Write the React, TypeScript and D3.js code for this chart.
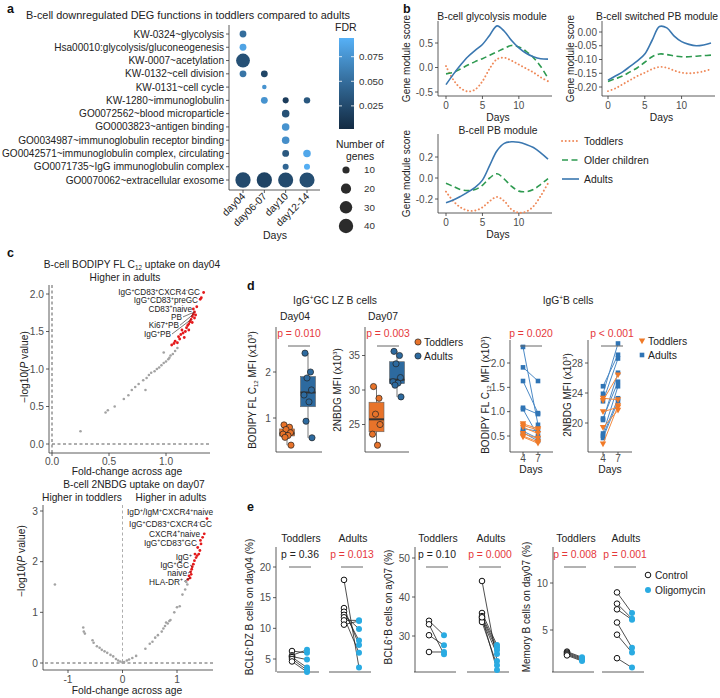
import React, { useEffect, useRef } from "react";
import * as d3 from "d3";

const W = 720;
const H = 698;
const FONT = "'Liberation Sans', Arial, Helvetica, sans-serif";

// ---------- panel a: DEG functions ----------
const termLabels = [
  "KW-0324~glycolysis",
  "Hsa00010:glycolysis/gluconeogenesis",
  "KW-0007~acetylation",
  "KW-0132~cell division",
  "KW-0131~cell cycle",
  "KW-1280~immunoglobulin",
  "GO0072562~blood microparticle",
  "GO0003823~antigen binding",
  "GO0034987~immunoglobulin receptor binding",
  "GO0042571~immunoglobulin complex, circulating",
  "GO0071735~IgG immunoglobulin complex",
  "GO0070062~extracellular exosome",
];
const dayGroups = ["day04", "day06-07", "day10", "day12-14"];
const enrichment = [
  { term: "KW-0324~glycolysis", day: "day04", genes: 9, fdr: 0.05 },
  { term: "Hsa00010:glycolysis/gluconeogenesis", day: "day04", genes: 9, fdr: 0.085 },
  { term: "KW-0007~acetylation", day: "day04", genes: 37, fdr: 0.03 },
  { term: "KW-0132~cell division", day: "day04", genes: 9, fdr: 0.055 },
  { term: "KW-0132~cell division", day: "day06-07", genes: 9, fdr: 0.022 },
  { term: "KW-0131~cell cycle", day: "day06-07", genes: 4, fdr: 0.075 },
  { term: "KW-1280~immunoglobulin", day: "day06-07", genes: 9, fdr: 0.075 },
  { term: "KW-1280~immunoglobulin", day: "day10", genes: 7, fdr: 0.015 },
  { term: "KW-1280~immunoglobulin", day: "day12-14", genes: 8, fdr: 0.035 },
  { term: "GO0072562~blood microparticle", day: "day10", genes: 11, fdr: 0.03 },
  { term: "GO0003823~antigen binding", day: "day10", genes: 11, fdr: 0.075 },
  { term: "GO0034987~immunoglobulin receptor binding", day: "day10", genes: 11, fdr: 0.072 },
  { term: "GO0042571~immunoglobulin complex, circulating", day: "day10", genes: 9, fdr: 0.035 },
  { term: "GO0042571~immunoglobulin complex, circulating", day: "day12-14", genes: 11, fdr: 0.088 },
  { term: "GO0071735~IgG immunoglobulin complex", day: "day10", genes: 7, fdr: 0.045 },
  { term: "GO0071735~IgG immunoglobulin complex", day: "day12-14", genes: 7, fdr: 0.092 },
  { term: "GO0070062~extracellular exosome", day: "day04", genes: 45, fdr: 0.025 },
  { term: "GO0070062~extracellular exosome", day: "day06-07", genes: 45, fdr: 0.02 },
  { term: "GO0070062~extracellular exosome", day: "day10", genes: 44, fdr: 0.025 },
  { term: "GO0070062~extracellular exosome", day: "day12-14", genes: 44, fdr: 0.028 },
];
const fdrTicks = [0.025, 0.05, 0.075];
const geneTicks = [10, 20, 30, 40];

// ---------- panel b: module scores ----------
const moduleDays = [0, 1, 2, 3, 4, 5, 6, 7, 8, 9, 10, 11, 12, 13, 14];
const glycToddlers = [0.03, -0.25, -0.42, -0.49, -0.45, -0.28, -0.02, 0.17, 0.2, 0.14, 0.06, -0.02, -0.1, -0.2, -0.28];
const glycOlder = [-0.13, -0.1, -0.03, 0.05, 0.12, 0.18, 0.25, 0.32, 0.39, 0.45, 0.42, 0.33, 0.2, 0.02, -0.22];
const glycAdults = [-0.35, -0.14, 0.05, 0.22, 0.35, 0.47, 0.66, 0.85, 0.74, 0.55, 0.4, 0.29, 0.22, 0.18, 0.17];
const swToddlers = [-0.215, -0.205, -0.19, -0.175, -0.16, -0.148, -0.135, -0.127, -0.13, -0.14, -0.148, -0.15, -0.148, -0.143, -0.135];
const swOlder = [-0.18, -0.17, -0.16, -0.145, -0.13, -0.11, -0.09, -0.08, -0.082, -0.087, -0.09, -0.09, -0.088, -0.086, -0.084];
const swAdults = [-0.175, -0.16, -0.145, -0.125, -0.105, -0.08, -0.03, 0.02, 0.015, -0.015, -0.035, -0.045, -0.05, -0.047, -0.04];
const pbToddlers = [-0.13, -0.22, -0.28, -0.31, -0.31, -0.28, -0.22, -0.18, -0.22, -0.3, -0.33, -0.32, -0.27, -0.17, -0.05];
const pbOlder = [-0.05, -0.08, -0.11, -0.12, -0.11, -0.07, 0.0, 0.04, -0.01, -0.08, -0.125, -0.13, -0.11, -0.06, -0.005];
const pbAdults = [-0.235, -0.21, -0.175, -0.135, -0.09, -0.02, 0.12, 0.26, 0.33, 0.345, 0.34, 0.32, 0.29, 0.24, 0.18];
const ageGroups = ["Toddlers", "Older children", "Adults"];

// ---------- panel c: volcano-like plots ([fold change, -log10 p]) ----------
const bodipyGray = [
  [0.25, 0.17], [0.47, 0.42], [0.49, 0.45], [0.55, 0.5], [0.63, 0.6], [0.67, 0.65], [0.7, 0.72],
  [0.73, 0.76], [0.82, 0.72], [0.76, 0.8], [0.8, 0.85], [0.83, 0.88], [0.85, 0.92], [0.87, 0.95],
  [0.9, 0.97], [0.92, 1.0], [0.94, 1.02], [0.96, 1.05], [0.98, 1.08], [1.0, 1.1], [1.02, 1.13],
  [1.03, 1.15], [1.04, 1.18], [0.98, 1.22], [1.06, 1.2], [1.08, 1.24], [1.1, 1.28],
];
const bodipyRed = [
  [1.05, 1.32], [1.07, 1.34], [1.08, 1.37], [1.1, 1.35], [1.12, 1.4], [1.11, 1.43], [1.13, 1.46],
  [1.15, 1.48], [1.14, 1.52], [1.17, 1.5], [1.18, 1.55], [1.19, 1.58], [1.2, 1.6], [1.21, 1.63],
  [1.22, 1.66], [1.23, 1.7], [1.24, 1.73], [1.25, 1.76], [1.26, 1.72], [1.24, 1.8], [1.27, 1.83],
  [1.3, 1.93], [1.31, 1.95], [1.33, 2.02], [1.25, 1.68], [1.16, 1.42], [1.2, 1.52], [1.23, 1.62],
];
const nbdgGray = [
  [-1.24, 1.55], [-0.72, 0.7], [-0.71, 0.62], [-0.69, 0.58], [-0.55, 0.45], [-0.53, 0.4], [-0.47, 0.33],
  [-0.42, 0.3], [-0.38, 0.26], [-0.33, 0.23], [-0.28, 0.2], [-0.22, 0.16], [-0.17, 0.13], [-0.12, 0.08],
  [-0.08, 0.05], [-0.04, 0.03], [0.0, 0.01], [0.03, 0.02], [0.08, 0.05], [0.12, 0.07], [0.18, 0.1],
  [0.25, 0.14], [0.42, 0.28], [0.5, 0.38], [0.55, 0.42], [0.6, 0.5], [0.65, 0.55], [0.72, 0.62],
  [0.75, 0.68], [0.78, 0.73], [0.8, 0.8], [0.83, 0.78], [0.86, 0.83], [0.88, 0.85], [0.95, 1.0],
  [1.0, 1.1], [1.05, 1.12], [1.1, 1.35], [1.15, 1.45], [1.19, 1.55], [1.17, 1.6],
];
const nbdgRed = [
  [1.2, 1.65], [1.24, 1.68], [1.22, 1.72], [1.26, 1.75], [1.25, 1.8], [1.27, 1.85], [1.28, 1.9],
  [1.3, 1.95], [1.32, 2.02], [1.35, 2.08], [1.37, 2.12], [1.33, 2.15], [1.4, 2.15], [1.42, 2.22],
  [1.38, 2.28], [1.44, 2.35], [1.43, 2.42], [1.47, 2.48], [1.5, 2.55], [1.55, 2.85],
];

// ---------- panel d ----------
const lzBodipyToddlers = [0.85, 0.8, 0.75, 0.68, 0.65, 0.62, 0.58, 0.41];
const lzBodipyAdults = [2.41, 2.0, 1.87, 1.61, 1.5, 1.35, 0.93, 0.57];
const lzNbdgToddlers = [30.5, 28.8, 26.5, 25.0, 23.6, 22.0];
const lzNbdgAdults = [35.6, 35.0, 33.8, 31.8, 31.2, 31.0, 30.7, 29.0];
const igBodipyAdultsD4 = [2.33, 1.91, 1.63, 1.08, 1.05, 0.65, 0.6, 0.57];
const igBodipyAdultsD7 = [0.73, 1.63, 0.97, 0.95, 0.5, 0.6, 0.45, 0.4];
const igBodipyToddlersD4 = [0.75, 0.72, 0.68, 0.55, 0.5, 0.48];
const igBodipyToddlersD7 = [0.65, 0.62, 0.55, 0.45, 0.38, 0.35];
const igNbdgAdultsD4 = [24.9, 23.9, 22.9, 20.6, 20.4, 18.6, 18.3, 18.0];
const igNbdgAdultsD7 = [29.1, 30.6, 28.6, 25.5, 26.7, 24.9, 23.3, 22.9];
const igNbdgToddlersD4 = [23.3, 23.0, 21.5, 19.4, 17.2];
const igNbdgToddlersD7 = [23.1, 26.4, 22.1, 21.7, 22.3];

// ---------- panel e ----------
const dzToddlersCtrl = [6.3, 5.6, 5.4, 5.3, 5.0, 4.6];
const dzToddlersOligo = [6.0, 6.5, 4.9, 3.6, 3.2, 2.9];
const dzAdultsCtrl = [17.9, 13.3, 12.7, 12.2, 11.8, 11.3, 10.6];
const dzAdultsOligo = [3.6, 7.3, 8.0, 9.9, 6.0, 11.3, 11.2];
const bcl6ToddlersCtrl = [33.9, 33.0, 30.2, 25.9];
const bcl6ToddlersOligo = [30.2, 25.3, 27.6, 25.9];
const bcl6AdultsCtrl = [44.1, 35.9, 35.1, 34.6, 34.1, 33.6, 34.8];
const bcl6AdultsOligo = [23.6, 27.7, 27.1, 26.4, 25.4, 22.5, 21.3];
const memToddlersCtrl = [2.7, 2.6, 2.5, 2.4, 2.3];
const memToddlersOligo = [2.1, 2.0, 1.9, 1.8, 1.7];
const memAdultsCtrl = [9.0, 7.8, 7.2, 5.8, 4.5, 2.0];
const memAdultsOligo = [6.8, 6.2, 6.1, 3.1, 2.6, 1.0];

const C = {
  tod: "#EF8A5A",
  old: "#2E9A50",
  adu: "#3A77B0",
  orange: "#E8732A",
  blue: "#2D6A9F",
  sqBlue: "#2F74B5",
  red: "#E5383B",
  pt: "#E41A1C",
  gray: "#A3A3A3",
  oligo: "#2AABE2",
  tick: "#4D4D4D",
};

type G = d3.Selection<SVGGElement, unknown, null, undefined>;

// text with ^x / ^{..} superscripts and _{..} subscripts
function rich(t: any, s: string, fs: number) {
  const re = /(\^|_)(\{[^}]*\}|.)/g;
  let last = 0;
  let shift = 0;
  let m: RegExpExecArray | null;
  while ((m = re.exec(s))) {
    if (m.index > last) {
      t.append("tspan").attr("dy", -shift).text(s.slice(last, m.index));
      shift = 0;
    }
    const part = m[2].startsWith("{") ? m[2].slice(1, -1) : m[2];
    const d = m[1] === "^" ? -0.38 * fs : 0.22 * fs;
    t.append("tspan").attr("dy", d - shift).attr("font-size", fs * 0.62).text(part);
    shift = d;
    last = re.lastIndex;
  }
  if (last < s.length) t.append("tspan").attr("dy", -shift).text(s.slice(last));
}

function label(g: G, x: number, y: number, s: string, o: any = {}) {
  const fs = o.fs ?? 10;
  const t = g
    .append("text")
    .attr("x", x)
    .attr("y", y)
    .attr("font-size", fs)
    .attr("fill", o.fill ?? "#222")
    .attr("text-anchor", o.anchor ?? "start");
  if (o.weight) t.attr("font-weight", o.weight);
  if (o.rotate) t.attr("transform", `rotate(${o.rotate},${x},${y})`);
  rich(t, s, fs);
  return t;
}

const hy = (f: string) => (v: number) => d3.format(f)(v).replace("\u2212", "-");

function line(g: G, x1: number, y1: number, x2: number, y2: number, stroke = "#333", w = 0.8) {
  return g.append("line").attr("x1", x1).attr("y1", y1).attr("x2", x2).attr("y2", y2).attr("stroke", stroke).attr("stroke-width", w);
}

function yAxis(g: G, y: any, ticks: number[], x: number, top: number, bottom: number, fmt: any, fs = 10) {
  line(g, x, top, x, bottom);
  ticks.forEach((t) => {
    line(g, x - 3, y(t), x, y(t));
    g.append("text").attr("x", x - 5).attr("y", y(t)).attr("dy", "0.35em").attr("text-anchor", "end")
      .attr("font-size", fs).attr("fill", C.tick).text(fmt(t));
  });
}

function xAxis(g: G, x: any, ticks: number[], y: number, left: number, right: number, fmt: any, ly: number, fs = 10) {
  line(g, left, y, right, y);
  ticks.forEach((t) => {
    line(g, x(t), y, x(t), y + 3);
    g.append("text").attr("x", x(t)).attr("y", ly).attr("text-anchor", "middle")
      .attr("font-size", fs).attr("fill", C.tick).text(fmt(t));
  });
}

function drawA(g: G) {
  label(g, 7, 13, "a", { fs: 12.5, weight: "bold", fill: "#111" });
  label(g, 26, 19, "B-cell downregulated DEG functions in toddlers compared to adults", { fs: 10.9 });
  const ay = d3.scalePoint<string>().domain(termLabels).range([34, 180]);
  const ax = d3.scalePoint<string>().domain(dayGroups).range([243, 307]);
  const lo = 0.0015, hi = 0.094;
  const col = d3.scaleLinear<string>().domain([lo, hi]).range(["#132B43", "#56B1F7"]).interpolate(d3.interpolateLab);
  const r = d3.scaleSqrt().domain([0, 40]).range([0, 7.2]);

  line(g, 229, 25, 229, 190);
  line(g, 229, 190, 320, 190);
  termLabels.forEach((t) => {
    line(g, 226, ay(t)!, 229, ay(t)!);
    g.append("text").attr("x", 224).attr("y", ay(t)!).attr("dy", "0.35em").attr("text-anchor", "end")
      .attr("font-size", 10.05).attr("fill", "#222").text(t);
  });
  dayGroups.forEach((d) => {
    line(g, ax(d)!, 190, ax(d)!, 193);
    g.append("text").attr("text-anchor", "end").attr("font-size", 10.2).attr("fill", "#222")
      .attr("transform", `translate(${ax(d)! + 3},${197}) rotate(-45)`).text(d);
  });
  label(g, 275, 239, "Days", { anchor: "middle", fs: 10.5 });

  g.selectAll("circle.en").data(enrichment).enter().append("circle")
    .attr("cx", (d) => ax(d.day)!).attr("cy", (d) => ay(d.term)!)
    .attr("r", (d) => r(d.genes)).attr("fill", (d) => col(d.fdr));

  // FDR colour bar
  label(g, 335, 31, "FDR", { fs: 10.5 });
  const defs = g.append("defs");
  const lg = defs.append("linearGradient").attr("id", "fdrg").attr("x1", 0).attr("y1", 1).attr("x2", 0).attr("y2", 0);
  d3.range(0, 1.01, 0.1).forEach((p) => lg.append("stop").attr("offset", p).attr("stop-color", col(lo + p * (hi - lo))));
  const cb = d3.scaleLinear().domain([lo, hi]).range([129, 38]);
  g.append("rect").attr("x", 339).attr("y", 38).attr("width", 15).attr("height", 91).attr("fill", "url(#fdrg)");
  fdrTicks.forEach((t) => {
    line(g, 339, cb(t), 342, cb(t), "#fff", 0.8);
    line(g, 351, cb(t), 354, cb(t), "#fff", 0.8);
    g.append("text").attr("x", 359).attr("y", cb(t)).attr("dy", "0.35em").attr("font-size", 9.8).attr("fill", "#333").text(d3.format(".3f")(t));
  });
  label(g, 360, 148, "Number of", { fs: 10.3, anchor: "middle" });
  label(g, 360, 160, "genes", { fs: 10.3, anchor: "middle" });
  const ly = d3.scalePoint<number>().domain(geneTicks).range([170, 226]);
  geneTicks.forEach((n) => {
    g.append("circle").attr("cx", 346).attr("cy", ly(n)!).attr("r", r(n)).attr("fill", "#2b2b2b");
    g.append("text").attr("x", 364).attr("y", ly(n)!).attr("dy", "0.35em").attr("font-size", 9.8).attr("fill", "#333").text(n);
  });
}

function drawModule(g: G, o: any) {
  const x = d3.scaleLinear().domain([0, 14]).range([o.x0, o.x1]);
  const y = d3.scaleLinear().domain(o.yd).range(o.yr);
  label(g, o.tx, o.ty, o.title, { anchor: "middle", fs: 10.3 });
  yAxis(g, y, o.ticks, o.ax, o.top, o.bottom, hy(o.fmt));
  xAxis(g, x, [0, 5, 10], o.bottom, o.ax, o.x1 + 4, (v: number) => v, o.bottom + 13);
  label(g, (o.ax + o.x1 + 4) / 2 + 3, o.bottom + 25, "Days", { anchor: "middle", fs: 10.3 });
  label(g, o.ax - 28, (o.top + o.bottom) / 2, "Gene module score", { anchor: "middle", fs: 10, rotate: -90 });
  const gen = d3.line<number>().x((_, i) => x(moduleDays[i])).y((v) => y(v)).curve(d3.curveCatmullRom.alpha(0.5));
  const styles = [
    { c: C.tod, dash: "0.1 3.6", w: 1.9, cap: "round" },
    { c: C.old, dash: "6 3.5", w: 1.6, cap: "butt" },
    { c: C.adu, dash: null, w: 1.6, cap: "butt" },
  ];
  o.series.forEach((s: number[], i: number) => {
    g.append("path").attr("d", gen(s)).attr("fill", "none").attr("stroke", styles[i].c)
      .attr("stroke-width", styles[i].w).attr("stroke-dasharray", styles[i].dash).attr("stroke-linecap", styles[i].cap);
  });
  return styles;
}

function drawB(g: G) {
  label(g, 403, 13, "b", { fs: 12.5, weight: "bold", fill: "#111" });
  drawModule(g, { x0: 446, x1: 548, yd: [-0.5, 0.5], yr: [92, 43], ticks: [-0.5, 0, 0.5], fmt: ".1f", ax: 438, top: 21, bottom: 96,
    title: "B-cell glycolysis module", tx: 492, ty: 20, series: [glycToddlers, glycOlder, glycAdults] });
  drawModule(g, { x0: 608, x1: 711, yd: [-0.2, 0], yr: [87, 32], ticks: [-0.2, -0.15, -0.1, -0.05, 0], fmt: ".2f", ax: 602, top: 21, bottom: 96,
    title: "B-cell switched PB module", tx: 657, ty: 20, series: [swToddlers, swOlder, swAdults] });
  const styles = drawModule(g, { x0: 446, x1: 548, yd: [-0.2, 0.2], yr: [199, 157], ticks: [-0.2, 0, 0.2], fmt: ".1f", ax: 438, top: 134, bottom: 213,
    title: "B-cell PB module", tx: 498, ty: 134, series: [pbToddlers, pbOlder, pbAdults] });
  ageGroups.forEach((a, i) => {
    const yy = 141 + i * 19;
    line(g, 562, yy, 579, yy, styles[i].c, styles[i].w).attr("stroke-dasharray", styles[i].dash).attr("stroke-linecap", styles[i].cap);
    label(g, 584, yy + 3.7, a, { fs: 10.4 });
  });
}

function volcanoPoints(g: G, x: any, y: any, gray: number[][], red: number[][]) {
  gray.forEach((p) => g.append("circle").attr("cx", x(p[0])).attr("cy", y(p[1])).attr("r", 1.3).attr("fill", C.gray));
  red.forEach((p) => g.append("circle").attr("cx", x(p[0])).attr("cy", y(p[1])).attr("r", 1.4).attr("fill", C.pt));
}

function pLabel(g: G, cx: number, cy: number) {
  const t = g.append("text").attr("x", cx).attr("y", cy).attr("text-anchor", "middle").attr("font-size", 10.2).attr("fill", "#222")
    .attr("transform", `rotate(-90,${cx},${cy})`);
  t.append("tspan").text("\u2212log10(");
  t.append("tspan").attr("font-style", "italic").text("P");
  t.append("tspan").text(" value)");
}

function drawC(g: G) {
  label(g, 7, 257, "c", { fs: 12.5, weight: "bold", fill: "#111" });
  // top: BODIPY
  label(g, 132, 268, "B-cell BODIPY FL C_{12} uptake on day04", { anchor: "middle", fs: 10.2 });
  label(g, 125, 281, "Higher in adults", { anchor: "middle", fs: 10.2 });
  const x1 = d3.scaleLinear().domain([0, 1]).range([52, 166]);
  const y1 = d3.scaleLinear().domain([0, 2]).range([444, 294]);
  yAxis(g, y1, [0, 0.5, 1, 1.5, 2], 49, 285, 453, hy(".1f"), 10.2);
  xAxis(g, x1, [0, 0.5, 1], 453, 49, 210, hy(".1f"), 465, 10.2);
  line(g, 52, y1(0), 210, y1(0), "#333", 0.8).attr("stroke-dasharray", "3 2.5");
  line(g, x1(0), 285, x1(0), 453, "#333", 0.8).attr("stroke-dasharray", "3 2.5");
  volcanoPoints(g, x1, y1, bodipyGray, bodipyRed);
  label(g, 127, 475, "Fold-change across age", { anchor: "middle", fs: 10.3 });
  pLabel(g, 28, 367);
  const lab1 = [
    { s: "IgG^+CD83^+CXCR4^-GC", x: 200, y: 295 },
    { s: "IgG^+CD83^+preGC", x: 198, y: 303.3 },
    { s: "CD83^+naive", x: 192, y: 311.6 },
    { s: "PB", x: 182, y: 319.9, p: bodipyRed[17] },
    { s: "Ki67^+PB", x: 179, y: 328.2, p: bodipyRed[16] },
    { s: "IgG^+PB", x: 171, y: 337, p: bodipyRed[14] },
  ];
  lab1.forEach((l) => {
    label(g, l.x, l.y, l.s, { anchor: "end", fs: 8.2 });
    if (l.p) line(g, l.x + 1, l.y - 3, x1(l.p[0]), y1(l.p[1]), "#222", 0.6);
  });

  // bottom: 2NBDG
  label(g, 134, 488, "B-cell 2NBDG uptake on day07", { anchor: "middle", fs: 10.2 });
  label(g, 82, 501, "Higher in toddlers", { anchor: "middle", fs: 10.2 });
  label(g, 171, 501, "Higher in adults", { anchor: "middle", fs: 10.2 });
  const x2 = d3.scaleLinear().domain([-1, 1]).range([68, 177]);
  const y2 = d3.scaleLinear().domain([0, 3]).range([663, 511]);
  yAxis(g, y2, [0, 1, 2, 3], 43, 505, 670, (v: number) => v, 10.2);
  xAxis(g, x2, [-1, 0, 1], 670, 43, 213, (v: number) => String(v), 683, 10.2);
  line(g, 45, y2(0), 213, y2(0), "#333", 0.8).attr("stroke-dasharray", "3 2.5");
  line(g, x2(0), 505, x2(0), 663, "#999", 0.8).attr("stroke-dasharray", "3 2.5");
  volcanoPoints(g, x2, y2, nbdgGray, nbdgRed);
  label(g, 127, 694, "Fold-change across age", { anchor: "middle", fs: 10.3 });
  pLabel(g, 25, 561);
  const lab2 = [
    { s: "IgD^+/IgM^+CXCR4^+naive", x: 213, y: 515 },
    { s: "IgG^+CD83^+CXCR4^-GC", x: 212, y: 527 },
    { s: "CXCR4^+naive", x: 200, y: 536.5 },
    { s: "IgG^+CD83^+GC", x: 197, y: 545.5 },
    { s: "IgG^+", x: 192, y: 560 },
    { s: "IgG^+GC", x: 189, y: 568, p: nbdgRed[6] },
    { s: "naive", x: 187, y: 576, p: nbdgRed[4] },
    { s: "HLA-DR^+", x: 183, y: 584.5, p: nbdgRed[1] },
  ];
  lab2.forEach((l) => {
    label(g, l.x, l.y, l.s, { anchor: "end", fs: 8.3 });
    if (l.p) line(g, l.x + 1, l.y - 3, x2(l.p[0]), y2(l.p[1]), "#222", 0.6);
  });
}

const jit = [-3, 2.5, -1, 3.5, -4, 1, -2, 4, 0];

function boxGroup(g: G, vals: number[], cx: number, y: any, fill: string) {
  const s = vals.slice().sort(d3.ascending);
  const q1 = d3.quantile(s, 0.25)!, med = d3.quantile(s, 0.5)!, q3 = d3.quantile(s, 0.75)!;
  const iqr = q3 - q1;
  const lo = d3.min(s.filter((v) => v >= q1 - 1.5 * iqr))!;
  const hi = d3.max(s.filter((v) => v <= q3 + 1.5 * iqr))!;
  line(g, cx, y(lo), cx, y(hi), "#555", 0.8);
  g.append("rect").attr("x", cx - 7.5).attr("y", y(q3)).attr("width", 15).attr("height", y(q1) - y(q3))
    .attr("fill", fill).attr("stroke", "#666").attr("stroke-width", 0.6);
  line(g, cx - 7.5, y(med), cx + 7.5, y(med), "#333", 2);
  vals.forEach((v, i) => g.append("circle").attr("cx", cx + jit[i % jit.length]).attr("cy", y(v)).attr("r", 3.1)
    .attr("fill", fill).attr("stroke", "#222").attr("stroke-width", 0.7));
}

function pText(g: G, cx: number, y: number, s: string, red: boolean, lw = 22) {
  label(g, cx, y, s, { anchor: "middle", fs: 10.4, fill: red ? C.red : "#222" });
  line(g, cx - lw / 2, y + 9, cx + lw / 2, y + 9, "#666", 1);
}

function triangle(g: G, x: number, y: number, fill: string) {
  const s = 3.2;
  g.append("path").attr("d", `M${x - s},${y - s * 0.8}L${x + s},${y - s * 0.8}L${x},${y + s}Z`).attr("fill", fill);
}

function paired(g: G, a: number[], b: number[], x4: number, x7: number, y: any, col: string, lineCol: string, mark: string) {
  a.forEach((v, i) => line(g, x4, y(v), x7, y(b[i]), lineCol, 1));
  a.concat(b).forEach((v, i) => {
    const x = i < a.length ? x4 : x7;
    if (mark === "sq") g.append("rect").attr("x", x - 2.3).attr("y", y(v) - 2.3).attr("width", 4.6).attr("height", 4.6).attr("fill", col);
    else triangle(g, x, y(v), col);
  });
}

function drawD(g: G) {
  label(g, 247, 290, "d", { fs: 12.5, weight: "bold", fill: "#111" });
  label(g, 335, 304, "IgG^+GC LZ B cells", { anchor: "middle", fs: 10.3 });
  label(g, 295, 320, "Day04", { anchor: "middle", fs: 10.4 });
  label(g, 383, 320, "Day07", { anchor: "middle", fs: 10.4 });
  label(g, 568, 304, "IgG^+B cells", { anchor: "middle", fs: 10.3 });

  const y1 = d3.scaleLinear().domain([1, 2]).range([418, 372]);
  yAxis(g, y1, [1, 2], 276, 327, 452, (v: number) => v, 10.2);
  line(g, 276, 452, 322, 452);
  boxGroup(g, lzBodipyToddlers, 287, y1, C.orange);
  boxGroup(g, lzBodipyAdults, 308, y1, C.blue);
  pText(g, 299, 337, "p = 0.010", true);
  label(g, 256, 390, "BODIPY FL C_{12} MFI (x10^3)", { anchor: "middle", fs: 10, rotate: -90 });

  const y2 = d3.scaleLinear().domain([25, 35]).range([424.5, 355.5]);
  yAxis(g, y2, [25, 30, 35], 365, 327, 452, (v: number) => v, 10.2);
  line(g, 365, 452, 409, 452);
  boxGroup(g, lzNbdgToddlers, 376.5, y2, C.orange);
  boxGroup(g, lzNbdgAdults, 397, y2, C.blue);
  pText(g, 388, 337, "p = 0.003", true);
  label(g, 341, 390, "2NBDG MFI (x10^3)", { anchor: "middle", fs: 10, rotate: -90 });
  [["Toddlers", C.orange], ["Adults", C.blue]].forEach(([t, c], i) => {
    g.append("circle").attr("cx", 418).attr("cy", 342 + i * 14).attr("r", 3.1).attr("fill", c).attr("stroke", "#222").attr("stroke-width", 0.7);
    label(g, 424, 345.7 + i * 14, t, { fs: 10.4 });
  });

  const y3 = d3.scaleLinear().domain([0.5, 2]).range([436, 363]);
  const x3 = d3.scaleLinear().domain([4, 7]).range([523, 538]);
  yAxis(g, y3, [0.5, 1, 1.5, 2], 510, 340, 452, hy(".1f"), 10.2);
  xAxis(g, x3, [4, 7], 452, 510, 553, (v: number) => v, 462, 10.2);
  label(g, 531, 473, "Days", { anchor: "middle", fs: 10.3 });
  paired(g, igBodipyAdultsD4, igBodipyAdultsD7, 523, 538, y3, C.sqBlue, "#4C8AC6", "sq");
  paired(g, igBodipyToddlersD4, igBodipyToddlersD7, 523, 538, y3, "#F07A28", "#F28A40", "tri");
  pText(g, 531, 337, "p = 0.020", true);
  label(g, 489, 395, "BODIPY FL C_{12} MFI (x10^3)", { anchor: "middle", fs: 10, rotate: -90 });

  const y4 = d3.scaleLinear().domain([20, 28]).range([423, 363]);
  const x4 = d3.scaleLinear().domain([4, 7]).range([603, 618]);
  yAxis(g, y4, [20, 24, 28], 588, 340, 452, (v: number) => v, 10.2);
  xAxis(g, x4, [4, 7], 452, 588, 632, (v: number) => v, 462, 10.2);
  label(g, 610, 473, "Days", { anchor: "middle", fs: 10.3 });
  paired(g, igNbdgAdultsD4, igNbdgAdultsD7, 603, 618, y4, C.sqBlue, "#4C8AC6", "sq");
  paired(g, igNbdgToddlersD4, igNbdgToddlersD7, 603, 618, y4, "#F07A28", "#F28A40", "tri");
  pText(g, 612, 337, "p < 0.001", true);
  label(g, 571, 395, "2NBDG MFI (x10^3)", { anchor: "middle", fs: 10, rotate: -90 });
  triangle(g, 642, 341, "#F07A28");
  label(g, 648, 344.7, "Toddlers", { fs: 10.4 });
  g.append("rect").attr("x", 639.7).attr("y", 352.7).attr("width", 4.6).attr("height", 4.6).attr("fill", C.sqBlue);
  label(g, 648, 358.7, "Adults", { fs: 10.4 });
}

function ePairs(g: G, ctrl: number[], oligo: number[], xc: number, xo: number, y: any) {
  ctrl.forEach((v, i) => line(g, xc, y(v), xo, y(oligo[i]), "#222", 0.8));
  oligo.forEach((v) => g.append("circle").attr("cx", xo).attr("cy", y(v)).attr("r", 3).attr("fill", C.oligo));
  ctrl.forEach((v) => g.append("circle").attr("cx", xc).attr("cy", y(v)).attr("r", 2.8).attr("fill", "#fff").attr("stroke", "#111").attr("stroke-width", 1));
}

function ePanel(g: G, o: any) {
  const y = d3.scaleLinear().domain(o.yd).range(o.yr);
  yAxis(g, y, o.ticks, o.ax, 547, 672, (v: number) => v, 10.2);
  label(g, o.ax - 23, 607, o.ylab, { anchor: "middle", fs: 10, rotate: -90 });
  o.groups.forEach((gr: any) => {
    const x = d3.scalePoint<string>().domain(["Control", "Oligomycin"]).range([gr.x, gr.x + 15]);
    line(g, gr.x - 15, 672, gr.x + 27, 672);
    label(g, gr.x + 9, 542, gr.name, { anchor: "middle", fs: 10.4 });
    pText(g, gr.x + 8, 558, gr.p, gr.sig);
    ePairs(g, gr.ctrl, gr.oligo, x("Control")!, x("Oligomycin")!, y);
  });
}

function drawE(g: G) {
  label(g, 247, 511, "e", { fs: 12.5, weight: "bold", fill: "#111" });
  ePanel(g, { yd: [5, 20], yr: [659, 567], ticks: [5, 10, 15, 20], ax: 276, ylab: "BCL6^+DZ B cells on day04 (%)",
    groups: [
      { name: "Toddlers", x: 292, p: "p = 0.36", sig: false, ctrl: dzToddlersCtrl, oligo: dzToddlersOligo },
      { name: "Adults", x: 344, p: "p = 0.013", sig: true, ctrl: dzAdultsCtrl, oligo: dzAdultsOligo },
    ] });
  ePanel(g, { yd: [30, 50], yr: [636, 558], ticks: [30, 40, 50], ax: 415, ylab: "BCL6^+B cells on ay07 (%)",
    groups: [
      { name: "Toddlers", x: 429, p: "p = 0.10", sig: false, ctrl: bcl6ToddlersCtrl, oligo: bcl6ToddlersOligo },
      { name: "Adults", x: 482, p: "p = 0.000", sig: true, ctrl: bcl6AdultsCtrl, oligo: bcl6AdultsOligo },
    ] });
  ePanel(g, { yd: [5, 10], yr: [630, 583], ticks: [5, 10], ax: 553, ylab: "Memory B cells on day07 (%)",
    groups: [
      { name: "Toddlers", x: 567, p: "p = 0.008", sig: true, ctrl: memToddlersCtrl, oligo: memToddlersOligo },
      { name: "Adults", x: 617, p: "p = 0.001", sig: true, ctrl: memAdultsCtrl, oligo: memAdultsOligo },
    ] });
  g.append("circle").attr("cx", 648).attr("cy", 575).attr("r", 2.8).attr("fill", "#fff").attr("stroke", "#111").attr("stroke-width", 1);
  label(g, 655, 578.7, "Control", { fs: 10.2 });
  g.append("circle").attr("cx", 648).attr("cy", 590).attr("r", 3).attr("fill", C.oligo);
  label(g, 655, 593.7, "Oligomycin", { fs: 10.2 });
}

export default function App() {
  const ref = useRef<SVGSVGElement>(null);
  useEffect(() => {
    const svg = d3.select(ref.current);
    svg.selectAll("*").remove();
    const g = svg.append("g").attr("font-family", FONT) as unknown as G;
    drawA(g);
    drawB(g);
    drawC(g);
    drawD(g);
    drawE(g);
  }, []);
  return (
    <svg ref={ref} width={W} height={H} style={{ position: "absolute", left: 0, top: 0, background: "#fff" }} />
  );
}
